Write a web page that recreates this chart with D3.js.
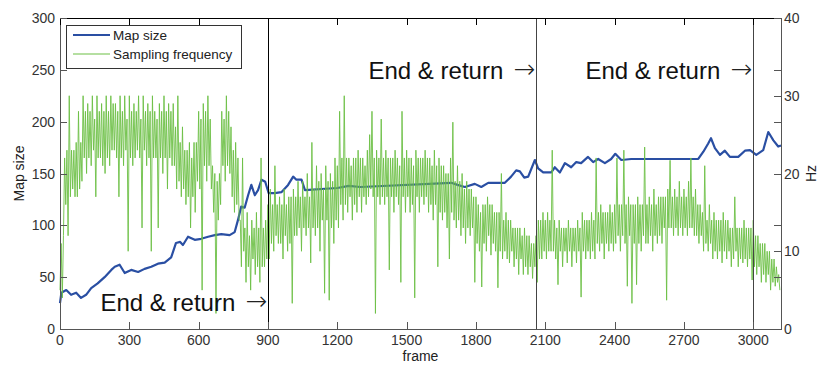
<!DOCTYPE html>
<html>
<head>
<meta charset="utf-8">
<script src="https://cdn.jsdelivr.net/npm/d3@7"></script>
<style>
  body { margin: 0; background: #fff; }
  svg { font-family: "Liberation Sans", Arial, sans-serif; }
</style>
</head>
<body>
<svg id="chart" width="818" height="367"></svg>
<script>
// Map size (left axis) at these frames
const mapFrames = [0, 6, 27, 48, 70, 91, 113, 135, 163, 193, 222, 237, 258, 280, 308, 338, 366, 395, 424, 453,
  481, 502, 520, 532, 554, 583, 611, 641, 670, 698, 734, 756, 770, 784, 799, 814, 828, 843, 857, 872,
  888, 903, 930, 958, 987, 1009, 1023, 1045, 1060, 1200, 1250, 1300, 1693, 1720, 1752, 1795, 1823, 1853, 1925, 1952,
  1974, 1990, 2009, 2026, 2055, 2069, 2091, 2126, 2141, 2163, 2185, 2212, 2234, 2255, 2285, 2307, 2329, 2358, 2385, 2403,
  2429, 2472, 2500, 2762, 2784, 2805, 2817, 2834, 2856, 2877, 2899, 2935, 2964, 2986, 3013, 3043, 3065, 3087, 3108, 3120];
const mapSize = [25, 35, 37.6, 33, 35, 30, 33, 39.5, 44, 50, 57, 60, 62, 54, 57, 55, 58, 60, 63, 64,
  69, 83, 84, 81, 89, 86, 87, 89, 90.5, 91.5, 90.5, 93.5, 105, 118, 117, 129, 139, 129, 134, 144,
  142, 131, 131, 132, 139, 147, 144, 144, 134, 136, 138, 137, 141, 139, 137, 140, 137, 141, 141, 147,
  153, 152, 146, 147, 163, 155, 151, 151, 156, 151, 160, 156, 161, 160, 166, 161, 164, 160, 164, 169,
  163, 164, 164, 164, 171, 179, 184, 174.5, 168, 172, 166, 166, 172, 172.5, 168, 172.5, 190, 182, 176, 177];

// Sampling frequency (Hz, right axis), one reading every 5 frames, 100 frames per row
const freqStep = 5;
const freq = [
  5, 11, 4, 12, 22, 16, 23, 12, 30, 17, 23, 18, 23, 17, 24, 17, 28, 18, 24, 19,
  30, 22, 28, 20, 29, 22, 28, 21, 30, 23, 27, 17, 30, 22, 28, 22, 29, 21, 28, 20,
  30, 22, 28, 21, 30, 23, 29, 23, 29, 22, 28, 17, 30, 22, 28, 21, 30, 23, 27, 10,
  30, 22, 28, 21, 29, 22, 28, 23, 30, 22, 27, 13, 30, 23, 28, 21, 29, 22, 28, 10,
  30, 22, 28, 22, 27, 13, 29, 22, 28, 20, 30, 22, 28, 18, 29, 22, 28, 21, 29, 21,
  26, 18, 30, 19, 24, 17, 26, 18, 23, 16, 23, 17, 24, 13, 22, 17, 24, 15, 24, 19,
  28, 18, 27, 5, 29, 21, 28, 19, 30, 21, 27, 18, 21, 15, 20, 2, 19, 14, 20, 16,
  28, 21, 27, 19, 30, 21, 28, 20, 26, 17, 23, 15, 24, 16, 22, 14, 14, 8, 22, 10,
  13, 6, 15, 8, 12, 5, 14, 9, 13, 7, 15, 8, 13, 6, 22, 8, 13, 8, 14, 9,
  16, 9, 18, 11, 16, 10, 21, 12, 16, 11, 17, 11, 16, 9, 18, 12, 16, 10, 17, 11,
  17, 3.3, 18, 12, 17, 12, 19, 13, 17, 10, 19, 13, 17, 12, 20, 13, 17, 8.5, 24, 13,
  18, 12, 21, 13, 19, 10, 20, 14, 18, 4.6, 21, 14, 19, 3.7, 20, 13, 19, 11, 22, 14,
  21, 13, 28, 16, 22, 14, 30, 16, 22, 15, 22, 17, 21, 14, 22, 16, 22, 15, 23, 17,
  22, 15, 22, 17, 21, 16, 23, 17, 25, 18, 28, 17, 22, 2, 23, 17, 22, 16, 27, 17,
  22, 16, 23, 17, 22, 7.6, 22, 17, 22, 15, 23, 17, 22, 16, 21, 6, 28, 17, 22, 15,
  23, 17, 22, 15, 22, 16, 21, 4, 23, 17, 22, 15, 22, 17, 22, 16, 23, 17, 22, 15,
  22, 16, 21, 14, 23, 16, 21, 8, 22, 15, 21, 14, 21, 15, 20, 13, 20, 9, 22, 15,
  26.6, 14, 19, 13, 21, 14, 19, 12, 20, 13, 18, 11, 19, 13, 18, 12, 18, 13, 17, 6,
  17, 11, 16, 10, 15, 5.4, 16, 11, 16, 10, 17, 12, 16, 9.5, 16, 11, 15, 10, 15, 5.3,
  15, 10, 20, 9, 14, 10, 15, 9, 14, 8.5, 14, 10, 13, 8, 13, 9, 13, 7, 13, 9,
  12, 7, 13, 8, 12, 7, 12, 8, 11, 6.5, 11, 8, 12, 6, 14, 9, 14, 9, 15, 10,
  14, 9, 15, 10, 14, 10, 23, 10, 14, 9, 13, 5.7, 14, 10, 13, 8, 13, 10, 13, 8.5,
  14, 10, 13, 8, 13, 10, 13, 8.5, 14, 10, 13, 4.1, 15, 10, 14, 9, 14, 10, 14, 9,
  15, 10, 14, 9, 22, 11, 15, 10, 16, 11, 15, 9, 15, 11, 15, 10, 16, 11, 15, 10,
  16, 11, 22, 12, 16, 10, 16, 12, 23, 11, 16, 5.5, 17, 12, 16, 3.3, 16, 11, 16, 5.7,
  17, 11, 16, 10, 16, 12, 23.4, 11, 16, 11, 17, 12, 16, 10, 18, 12, 16, 11, 17, 12,
  17, 11, 17, 13, 17, 3.7, 18, 13, 21.7, 13, 17, 12, 18, 13, 17, 12, 19, 13, 17, 12,
  18, 13, 17, 12, 19, 13, 22, 13, 17, 12, 18, 12, 16, 11, 16, 12, 15, 10, 21, 11,
  14, 10, 16, 11, 14, 9, 15, 10, 14, 9, 14, 10, 14, 8.5, 15, 10, 14, 9, 14, 10,
  13, 8, 13, 9, 17, 10, 13, 8, 13, 9, 13, 8.5, 14, 9, 13, 8, 13, 9, 13, 6.3,
  14, 8, 12, 7, 12, 8, 11, 6, 11, 7, 11, 6, 10, 7, 10, 5, 9, 6, 9, 5.5,
  8, 6, 7, 5
];

const xTicks = [0, 300, 600, 900, 1200, 1500, 1800, 2100, 2400, 2700, 3000];
const leftTicks = [0, 50, 100, 150, 200, 250, 300];
const rightTicks = [0, 10, 20, 30, 40];
const markerFrames = [900, 2058, 3000];
const markerLabel = "End & return";
const markerTextY = [311, 79, 79];

const svg = d3.select("#chart");
const margin = { left: 60, right: 37, top: 18, bottom: 38 };
const width = 818, height = 367;
const x0 = margin.left, x1 = width - margin.right;
const y0 = height - margin.bottom, y1 = margin.top;

const x = d3.scaleLinear().domain([0, 3120]).range([x0, x1]);
const yL = d3.scaleLinear().domain([0, 300]).range([y0, y1]);
const yR = d3.scaleLinear().domain([0, 40]).range([y0, y1]);

const tickLen = 7;
const axisColor = "#555";
const labelColor = "#333";

// Map size line
const mapData = mapFrames.map((f, i) => [f, mapSize[i]]);
svg.append("path")
  .datum(mapData)
  .attr("fill", "none")
  .attr("stroke", "#2a4fa3")
  .attr("stroke-width", 2.2)
  .attr("stroke-linejoin", "round")
  .attr("d", d3.line().x(d => x(d[0])).y(d => yL(d[1])));

// Sampling frequency line
svg.append("path")
  .datum(freq)
  .attr("fill", "none")
  .attr("stroke", "#6cbf45")
  .attr("stroke-width", 0.9)
  .attr("d", d3.line().x((d, i) => x(i * freqStep)).y(d => yR(d)));

// End & return markers
markerFrames.forEach((f, i) => {
  const mx = Math.round(x(f)) + 0.5;
  svg.append("line")
    .attr("x1", mx).attr("x2", mx)
    .attr("y1", y1).attr("y2", y0)
    .attr("stroke", i === 0 ? "#000" : "#444")
    .attr("stroke-width", 1);
  svg.append("text")
    .attr("x", mx - 168)
    .attr("y", markerTextY[i])
    .attr("font-size", 24)
    .attr("fill", "#111")
    .text(markerLabel);
  svg.append("text")
    .attr("x", mx - 1)
    .attr("y", markerTextY[i] - 1)
    .attr("text-anchor", "end")
    .attr("font-family", "DejaVu Sans")
    .attr("font-weight", 200)
    .attr("font-size", 26)
    .attr("fill", "#222")
    .text("\u2192");
});

// Box
const g = svg.append("g").attr("shape-rendering", "crispEdges");
g.append("line").attr("x1", x0).attr("x2", x1).attr("y1", y1 + 0.5).attr("y2", y1 + 0.5).attr("stroke", "#000");
g.append("line").attr("x1", x0).attr("x2", x1).attr("y1", y0 + 0.5).attr("y2", y0 + 0.5).attr("stroke", axisColor);
g.append("line").attr("x1", x0 + 0.5).attr("x2", x0 + 0.5).attr("y1", y1).attr("y2", y0 + 1).attr("stroke", axisColor);
g.append("line").attr("x1", x1 + 0.5).attr("x2", x1 + 0.5).attr("y1", y1).attr("y2", y0 + 1).attr("stroke", axisColor);

// X ticks (bottom and mirrored top)
xTicks.forEach(t => {
  const tx = Math.round(x(t)) + 0.5;
  g.append("line").attr("x1", tx).attr("x2", tx).attr("y1", y0).attr("y2", y0 - tickLen).attr("stroke", axisColor);
  g.append("line").attr("x1", tx).attr("x2", tx).attr("y1", y1).attr("y2", y1 + tickLen).attr("stroke", "#000");
  svg.append("text")
    .attr("x", x(t)).attr("y", y0 + 16)
    .attr("text-anchor", "middle")
    .attr("font-size", 14).attr("fill", labelColor)
    .text(t);
});

// Left ticks, mirrored on the right edge
leftTicks.forEach(t => {
  const ty = Math.round(yL(t)) + 0.5;
  g.append("line").attr("x1", x0).attr("x2", x0 + tickLen).attr("y1", ty).attr("y2", ty).attr("stroke", axisColor);
  g.append("line").attr("x1", x1).attr("x2", x1 - tickLen).attr("y1", ty).attr("y2", ty).attr("stroke", axisColor);
  svg.append("text")
    .attr("x", x0 - 5).attr("y", yL(t) + 5)
    .attr("text-anchor", "end")
    .attr("font-size", 14).attr("fill", labelColor)
    .text(t);
});

// Right ticks
rightTicks.forEach(t => {
  const ty = Math.round(yR(t)) + 0.5;
  g.append("line").attr("x1", x1).attr("x2", x1 - tickLen).attr("y1", ty).attr("y2", ty).attr("stroke", axisColor);
  svg.append("text")
    .attr("x", x1 + 3).attr("y", yR(t) + 5)
    .attr("font-size", 14).attr("fill", labelColor)
    .text(t);
});

// Axis titles
svg.append("text")
  .attr("transform", `translate(24,${(y0 + y1) / 2}) rotate(-90)`)
  .attr("text-anchor", "middle")
  .attr("font-size", 14).attr("fill", "#222")
  .text("Map size");
svg.append("text")
  .attr("transform", `translate(816,${(y0 + y1) / 2}) rotate(-90)`)
  .attr("text-anchor", "middle")
  .attr("font-size", 14).attr("fill", "#222")
  .text("Hz");
svg.append("text")
  .attr("x", (x0 + x1) / 2).attr("y", 361)
  .attr("text-anchor", "middle")
  .attr("font-size", 14).attr("fill", "#222")
  .text("frame");

// Legend
const leg = svg.append("g");
leg.append("rect")
  .attr("x", 66.5).attr("y", 25.5).attr("width", 175).attr("height", 43)
  .attr("fill", "#fff").attr("stroke", "#333").attr("stroke-width", 1)
  .attr("shape-rendering", "crispEdges");
const legendItems = [
  { name: "Map size", color: "#2a4fa3", w: 2.2, y: 35 },
  { name: "Sampling frequency", color: "#6cbf45", w: 1.1, y: 54 }
];
legendItems.forEach(d => {
  leg.append("line")
    .attr("x1", 73).attr("x2", 110).attr("y1", d.y).attr("y2", d.y)
    .attr("stroke", d.color).attr("stroke-width", d.w);
  leg.append("text")
    .attr("x", 113).attr("y", d.y + 5)
    .attr("font-size", 13.5).attr("fill", "#222")
    .text(d.name);
});
</script>
</body>
</html>
